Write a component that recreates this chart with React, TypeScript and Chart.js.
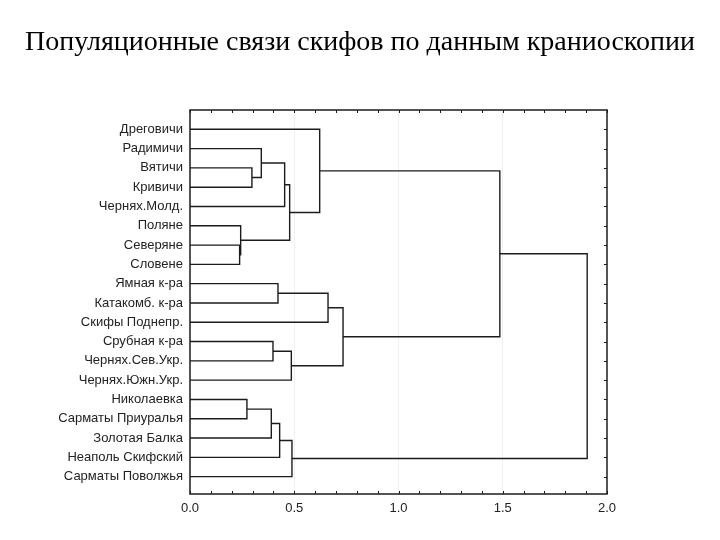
import React, { useEffect, useRef } from "react";
import { Chart, registerables } from "chart.js";
Chart.register(...registerables);

const title = "Популяционные связи скифов по данным краниоскопии";

const leaves = [
  "Дреговичи",
  "Радимичи",
  "Вятичи",
  "Кривичи",
  "Черняx.Молд.",
  "Поляне",
  "Северяне",
  "Словене",
  "Ямная к-ра",
  "Катакомб. к-ра",
  "Скифы Поднепр.",
  "Срубная к-ра",
  "Черняx.Сев.Укр.",
  "Черняx.Южн.Укр.",
  "Николаевка",
  "Сарматы Приуралья",
  "Золотая Балка",
  "Неаполь Скифский",
  "Сарматы Поволжья",
];

// merges: node ids 0..18 are leaves, merge k gets id 19 + k
const mergeLeft = [2, 1, 20, 6, 5, 21, 0, 8, 26, 11, 28, 27, 25, 14, 32, 33, 34, 31];
const mergeRight = [3, 19, 4, 7, 22, 23, 24, 9, 10, 12, 13, 29, 30, 15, 16, 17, 18, 35];
const mergeHeight = [
  0.297, 0.342, 0.454, 0.238, 0.243, 0.478, 0.622, 0.422, 0.662, 0.398, 0.486, 0.734,
  1.486, 0.273, 0.39, 0.43, 0.489, 1.905,
];

const xTicks = [0, 0.5, 1.0, 1.5, 2.0];
const xMinorStep = 0.1;

const lineColor = "#1c1c1c";

const framePlugin = {
  id: "frame",
  afterDatasetsDraw(chart: any) {
    const { ctx, chartArea: a, scales } = chart;
    const xs = scales.x;
    const ys = scales.y;
    ctx.save();
    ctx.strokeStyle = lineColor;
    ctx.lineWidth = 1.5;
    ctx.strokeRect(a.left, a.top, a.right - a.left, a.bottom - a.top);
    ctx.lineWidth = 1;
    ctx.beginPath();
    const nMinor = Math.round((xs.max - xs.min) / xMinorStep);
    for (let i = 0; i <= nMinor; i++) {
      const px = Math.round(xs.getPixelForValue(xs.min + i * xMinorStep)) + 0.5;
      ctx.moveTo(px, a.bottom);
      ctx.lineTo(px, a.bottom - 3);
      ctx.moveTo(px, a.top);
      ctx.lineTo(px, a.top + 3);
    }
    leaves.forEach((_, i) => {
      const py = Math.round(ys.getPixelForValue(i)) + 0.5;
      ctx.moveTo(a.right, py);
      ctx.lineTo(a.right - 3, py);
    });
    ctx.stroke();
    ctx.restore();
  },
};

export default function App() {
  const ref = useRef<HTMLCanvasElement>(null);
  useEffect(() => {
    const ypos: number[] = leaves.map((_, i) => i);
    const hgt: number[] = leaves.map(() => 0);
    const datasets = mergeLeft.map((l, k) => {
      const r = mergeRight[k];
      const h = mergeHeight[k];
      const data = [
        { x: hgt[l], y: ypos[l] },
        { x: h, y: ypos[l] },
        { x: h, y: ypos[r] },
        { x: hgt[r], y: ypos[r] },
      ];
      ypos.push((ypos[l] + ypos[r]) / 2);
      hgt.push(h);
      return {
        data,
        showLine: true,
        borderColor: lineColor,
        borderWidth: 1.4,
        pointRadius: 0,
        fill: false,
        tension: 0,
        yAxisID: "y",
      };
    });
    const chart = new Chart(ref.current as HTMLCanvasElement, {
      type: "scatter",
      data: { datasets },
      options: {
        animation: false,
        responsive: false,
        layout: { padding: 0 },
        plugins: {
          legend: { display: false },
          tooltip: { enabled: false },
          title: {
            display: true,
            text: title,
            color: "#000",
            font: { family: "Liberation Serif", size: 28, weight: "normal", lineHeight: 1.2 },
            padding: { top: 26, bottom: 50.4 },
          },
        },
        scales: {
          x: {
            type: "linear",
            min: 0,
            max: 2,
            afterBuildTicks: (s: any) => {
              s.ticks = xTicks.map((v) => ({ value: v }));
            },
            afterFit: (s: any) => {
              s.height = 46;
            },
            ticks: {
              callback: (v: any) => Number(v).toFixed(1),
              color: "#222",
              font: { family: "Liberation Sans", size: 13 },
              padding: 7,
              maxRotation: 0,
            },
            grid: {
              drawTicks: false,
              color: (c: any) =>
                c.tick && (c.tick.value === 0 || c.tick.value === 2) ? "rgba(0,0,0,0)" : "#efefef",
            },
            border: { display: false },
          },
          y: {
            type: "linear",
            position: "left",
            reverse: true,
            min: -1,
            max: 18.9,
            afterBuildTicks: (s: any) => {
              s.ticks = leaves.map((_, i) => ({ value: i }));
            },
            afterFit: (s: any) => {
              s.width = 190;
            },
            ticks: {
              callback: (v: any) => leaves[v] ?? "",
              color: "#222",
              font: { family: "Liberation Sans", size: 13 },
              padding: 7,
              autoSkip: false,
            },
            grid: { display: false, drawTicks: false },
            border: { display: false },
          },
          yRight: {
            type: "linear",
            position: "right",
            min: 0,
            max: 1,
            afterFit: (s: any) => {
              s.width = 113;
            },
            ticks: { display: false },
            grid: { display: false, drawTicks: false },
            border: { display: false },
          },
        },
      },
      plugins: [framePlugin],
    } as any);
    return () => chart.destroy();
  }, []);
  return (
    <div style={{ position: "fixed", left: 0, top: 0, width: 720, height: 540, background: "#fff" }}>
      <canvas ref={ref} width={720} height={540} />
    </div>
  );
}
